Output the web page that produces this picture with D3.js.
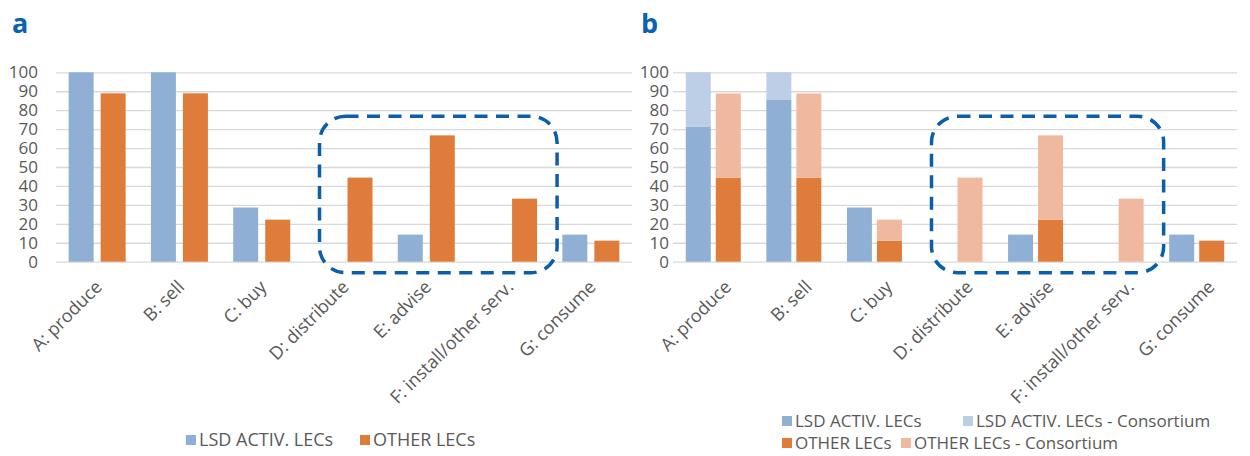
<!DOCTYPE html>
<html>
<meta charset="utf-8">
<style>
    body { margin: 0; background: #fff; }
    text { font-family: "Open Sans", sans-serif; fill: #595959; }
    .grid line { stroke: #d9d9d9; stroke-width: 1.3px; }
    .grid path { display: none; }
    .ylab path { display: none; }
    .ylab text { font-size: 17px; }
    .xlab { font-size: 18px; }
    .legend text { font-size: 17px; }
    .legend.a text { font-size: 18px; }
    .title { font-size: 27px; font-weight: bold; fill: #0b62b3; }
    .box { fill: none; stroke: #0b5eab; stroke-width: 3.5px; stroke-dasharray: 13 8.5; }
</style>

<body>
    <script src="https://d3js.org/d3.v7.min.js"></script>
    <script>

        var width = 1250,
            height = 456;

        // data (% of LECs)
        var categories = ["A: produce", "B: sell", "C: buy", "D: distribute", "E: advise", "F: install/other serv.", "G: consume"];
        var yTicks = [0, 10, 20, 30, 40, 50, 60, 70, 80, 90, 100];

        // panel a
        var lsdA = [100, 100, 28.6, 0, 14.3, 0, 14.3];
        var otherA = [88.9, 88.9, 22.2, 44.4, 66.7, 33.3, 11.1];

        // panel b (stacked: own part + consortium part)
        var lsdB = [71.4, 85.7, 28.6, 0, 14.3, 0, 14.3];
        var lsdConsB = [28.6, 14.3, 0, 0, 0, 0, 0];
        var otherB = [44.4, 44.4, 11.1, 0, 22.2, 0, 11.1];
        var otherConsB = [44.4, 44.4, 11.1, 44.4, 44.5, 33.3, 0];

        var legendA = ["LSD ACTIV. LECs", "OTHER LECs"];
        var legendB = ["LSD ACTIV. LECs", "LSD ACTIV. LECs - Consortium", "OTHER LECs", "OTHER LECs - Consortium"];

        var blue = "#8fafd4",
            lightBlue = "#bccfe6",
            orange = "#e07c3a",
            lightOrange = "#f1b8a0";

        var svg = d3.select("body").append("svg")
            .attr("width", width)
            .attr("height", height);

        var y = d3.scaleLinear().domain([0, 100]).range([261.7, 72.3]);

        function drawPanel(p) {
            var x0 = d3.scaleBand().domain(categories).range(p.range);
            var bw = x0.bandwidth();
            var x1 = d3.scaleBand().domain(["lsd", "other"])
                .range([(bw - p.groupW) / 2, (bw + p.groupW) / 2])
                .paddingInner(p.inner);

            var g = svg.append("g");

            g.append("text").attr("class", "title")
                .attr("x", p.titleX).attr("y", 33)
                .text(p.title);

            g.append("g").attr("class", "grid")
                .attr("transform", "translate(" + p.range[0] + ",0)")
                .call(d3.axisLeft(y).tickValues(yTicks).tickSize(-(p.range[1] - p.range[0])).tickFormat(""));

            g.append("g").attr("class", "ylab")
                .attr("transform", "translate(" + p.range[0] + ",0)")
                .call(d3.axisLeft(y).tickValues(yTicks).tickSize(0).tickPadding(p.pad))
                .selectAll("text").attr("fill", "#595959");

            // stacked segments: [series slot, base array, value array, colour]
            p.segments.forEach(function (s) {
                g.append("g").selectAll("rect")
                    .data(categories)
                    .join("rect")
                    .attr("x", function (c) { return x0(c) + x1(s.slot); })
                    .attr("width", x1.bandwidth())
                    .attr("y", function (c, i) { return y((s.base ? s.base[i] : 0) + s.values[i]); })
                    .attr("height", function (c, i) { return y(0) - y(s.values[i]); })
                    .attr("fill", s.color);
            });

            g.selectAll(".xlab")
                .data(categories)
                .join("text")
                .attr("class", "xlab")
                .attr("text-anchor", "end")
                .attr("transform", function (c) {
                    return "translate(" + (x0(c) + bw / 2 + p.labelDx) + ",288) rotate(-45)";
                })
                .text(function (c) { return c; });

            // highlight box around D..F
            var left = x0("D: distribute") + x1("lsd") + 4,
                right = x0("F: install/other serv.") + x1("other") + x1.bandwidth() + 20;
            g.append("rect").attr("class", "box")
                .attr("x", left).attr("y", y(76.8))
                .attr("width", right - left)
                .attr("height", y(0) + 11 - y(76.8))
                .attr("rx", 26).attr("ry", 26);

            var lg = g.append("g").attr("class", "legend " + p.title)
                .selectAll("g")
                .data(p.legend)
                .join("g")
                .attr("transform", function (d) { return "translate(" + d.x + "," + d.y + ")"; });
            lg.append("rect").attr("x", 0).attr("y", -5).attr("width", 10).attr("height", 10)
                .attr("fill", function (d) { return d.color; });
            lg.append("text").attr("x", 13).attr("dy", "0.36em")
                .text(function (d) { return d.name; });
        }

        drawPanel({
            title: "a", titleX: 12,
            range: [56, 632], groupW: 57, inner: 0.22, pad: 18, labelDx: 6,
            segments: [
                { slot: "lsd", values: lsdA, color: blue },
                { slot: "other", values: otherA, color: orange }
            ],
            legend: [
                { name: legendA[0], color: blue, x: 186, y: 440 },
                { name: legendA[1], color: orange, x: 360, y: 440 }
            ]
        });

        drawPanel({
            title: "b", titleX: 641,
            range: [673, 1237], groupW: 55, inner: 0.167, pad: 4, labelDx: 19,
            segments: [
                { slot: "lsd", values: lsdB, color: blue },
                { slot: "lsd", values: lsdConsB, base: lsdB, color: lightBlue },
                { slot: "other", values: otherB, color: orange },
                { slot: "other", values: otherConsB, base: otherB, color: lightOrange }
            ],
            legend: [
                { name: legendB[0], color: blue, x: 782, y: 421 },
                { name: legendB[1], color: lightBlue, x: 963, y: 421 },
                { name: legendB[2], color: orange, x: 782, y: 443 },
                { name: legendB[3], color: lightOrange, x: 901, y: 443 }
            ]
        });

    </script>

</body>
</html>
